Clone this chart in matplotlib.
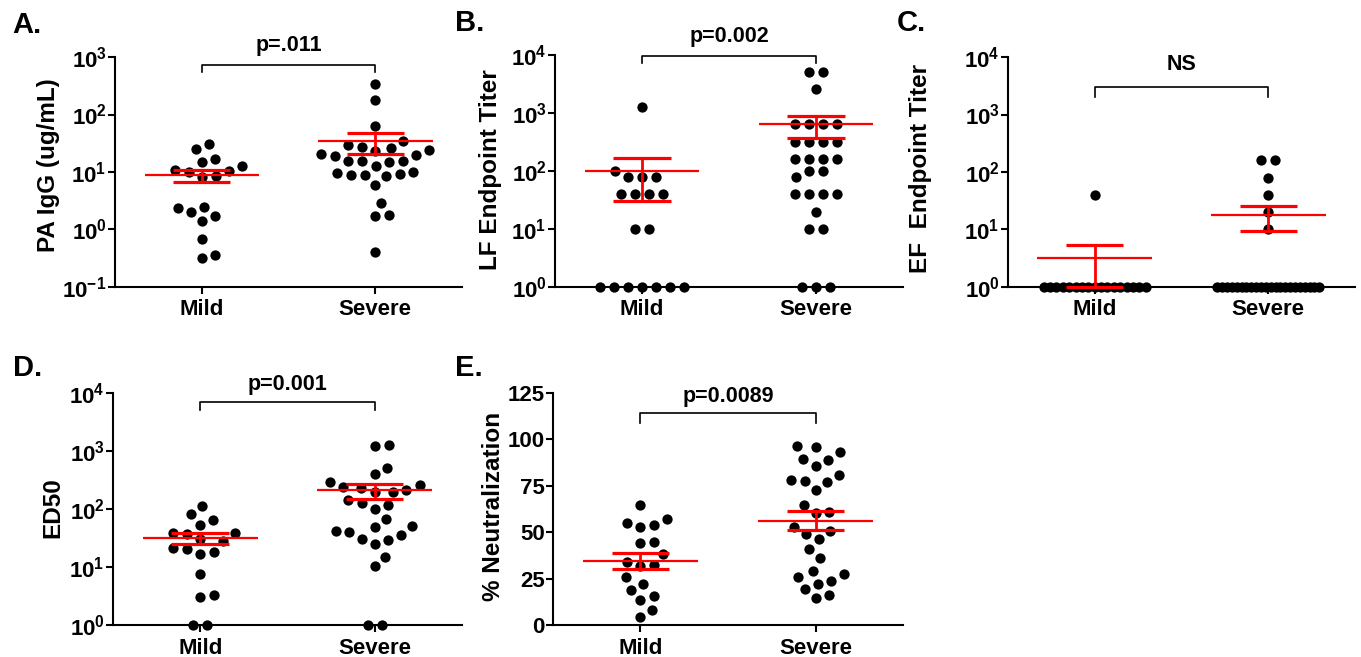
############################## libraries #####################################
import numpy as np
import matplotlib.pyplot as plt
import matplotlib.transforms as mtransforms
from matplotlib.ticker import FixedLocator, FuncFormatter, NullLocator
############################################################################


########################### data ####################
groups = ['Mild', 'Severe']

# A. PA IgG (ug/mL)
pa_mild = [31, 25, 17, 15, 10.7, 10, 10.4, 12.6, 8.2, 8.5, 2.0, 2.5, 2.4, 1.4, 1.7, 0.67, 0.32, 0.36]
pa_severe = [344, 181, 62, 34.6, 29, 26, 27, 23.8, 23, 20.8, 20, 18.7, 15.6, 14.9, 15.3, 15.8, 12.7,
             10, 9.1, 8.6, 8.7, 8.8, 9.6, 5.9, 2.9, 1.75, 1.78, 0.40]

# B. LF endpoint titer
lf_mild = [1280, 100, 80, 80, 80, 40, 40, 40, 40, 10, 10, 1, 1, 1, 1, 1, 1, 1]
lf_severe = [5120, 5120, 2560, 640, 640, 640, 640, 320, 320, 320, 320, 160, 160, 160, 160,
             100, 100, 80, 40, 40, 40, 40, 20, 10, 10, 1, 1, 1]

# C. EF endpoint titer
ef_mild = [40, 1, 1, 1, 1, 1, 1, 1, 1, 1, 1, 1, 1, 1, 1, 1, 1, 1]
ef_severe = [160, 160, 80, 40, 20, 10, 1, 1, 1, 1, 1, 1, 1, 1, 1, 1, 1, 1, 1, 1, 1, 1,
             1, 1, 1, 1, 1, 1]

# D. ED50
ed50_mild = [113, 81, 65, 53, 38, 37, 39, 30, 28, 21, 20.5, 18.5, 16.6, 7.5, 3.3, 3.1, 1, 1]
ed50_severe = [1280, 1200, 507, 399, 290, 255, 229, 240, 195, 200, 210, 144, 129, 118, 101, 68,
               50, 49, 41, 40.5, 36, 31, 29, 25, 15, 10.4, 1, 1]

# E. % neutralization
neut_mild = [64.4, 57, 54, 53, 55, 44, 44.5, 38.3, 32.2, 31.8, 34.2, 26, 22, 18.9, 15.8, 13.5, 8.1, 4.1]
neut_severe = [95.9, 96.2, 93, 89.4, 89, 85.8, 80.6, 78.2, 76.8, 77.7, 72.8, 64.7, 61, 60.6, 53,
               50.9, 49.1, 46.4, 41, 36, 27.5, 29.3, 23.9, 22.1, 25.7, 19.2, 14.4, 16.2]

p_texts = ['p=.011', 'p=0.002', 'NS', 'p=0.001', 'p=0.0089']
############################################################################


plt.rcParams['font.family'] = ['Liberation Sans', 'DejaVu Sans']
plt.rcParams['font.weight'] = 'bold'
plt.rcParams['axes.labelweight'] = 'bold'
plt.rcParams['mathtext.fontset'] = 'custom'
plt.rcParams['mathtext.rm'] = 'Liberation Sans:bold'
plt.rcParams['mathtext.bf'] = 'Liberation Sans:bold'
plt.rcParams['mathtext.it'] = 'Liberation Sans:bold'
plt.rcParams['mathtext.default'] = 'bf'

RED = '#ff0000'


def swarm_x(ax, xc, vals, d_px=14.0, half_px=51.0):
    # simple beeswarm in pixel space, equal values go in one row (squeezed if too wide)
    vals = np.asarray(vals, dtype=float)
    n = len(vals)
    ypx = ax.transData.transform(np.column_stack([np.full(n, xc), vals]))[:, 1]
    xpx = np.full(n, np.nan)
    uniq, cnt = np.unique(vals, return_counts=True)
    for u, c in zip(uniq, cnt):
        if c < 2:
            continue
        idx = np.where(vals == u)[0]
        step = min(d_px, 2 * half_px / (c - 1))
        xpx[idx] = (np.arange(c) - (c - 1) / 2.0) * step
    for i in np.argsort(ypx):
        if not np.isnan(xpx[i]):
            continue
        done = np.where(~np.isnan(xpx))[0]
        cands = [0.0]
        for j in done:
            dy = ypx[i] - ypx[j]
            if abs(dy) < d_px:
                dx = np.sqrt(d_px ** 2 - dy ** 2)
                cands += [xpx[j] + dx, xpx[j] - dx]
        for c in sorted(cands, key=abs):
            if np.all((c - xpx[done]) ** 2 + (ypx[i] - ypx[done]) ** 2 >= d_px ** 2 - 1e-6):
                xpx[i] = c
                break
    px_per_unit = ax.transData.transform((1, 1))[0] - ax.transData.transform((0, 1))[0]
    return xc + xpx / px_per_unit


def draw_panel(fig, rect, mild, severe, ylabel, log, ylim, lab_xy, bracket, ptext):
    ax = fig.add_axes(rect)
    ax.set_xlim(-0.5, 1.5)
    if log:
        ax.set_yscale('log')
    ax.set_ylim(*ylim)
    if log:
        lo, hi = np.log10(ylim[0]), np.log10(ylim[1])
        ax.yaxis.set_major_locator(FixedLocator(10.0 ** np.arange(lo, hi + 1)))
        ax.yaxis.set_major_formatter(FuncFormatter(lambda v, pos: r'$10^{%d}$' % round(np.log10(v))))
        ax.yaxis.set_minor_locator(NullLocator())
    else:
        ax.set_yticks([0, 25, 50, 75, 100, 125])

    for xc, vals in enumerate([mild, severe]):
        vals = np.asarray(vals, dtype=float)
        xs = swarm_x(ax, xc, vals)
        ax.scatter(xs, vals, s=55, color='black', linewidths=0, zorder=3, clip_on=False)
        # mean +- SEM
        m = vals.mean()
        sem = vals.std(ddof=1) / np.sqrt(len(vals))
        ax.hlines(m, xc - 0.33, xc + 0.33, color=RED, lw=1.6, zorder=4, clip_on=False)
        ax.hlines([m - sem, m + sem], xc - 0.165, xc + 0.165, color=RED, lw=2.3, zorder=4, clip_on=False)
        ax.vlines(xc, m - sem, m + sem, color=RED, lw=2.0, zorder=4, clip_on=False)

    ax.set_xticks([0, 1])
    ax.set_xticklabels(groups)
    for side in ['top', 'right']:
        ax.spines[side].set_visible(False)
    for side in ['left', 'bottom']:
        ax.spines[side].set_linewidth(1.5)
    ax.tick_params(axis='both', direction='out', length=5, width=1.5, labelsize=16)
    ax.tick_params(axis='y', pad=1)
    ax.tick_params(axis='x', pad=4)

    ax.set_ylabel(ylabel, fontsize=17.5, fontweight='bold')
    ax.yaxis.set_label_coords(*lab_xy)

    # significance bracket
    trans = mtransforms.blended_transform_factory(ax.transData, ax.transAxes)
    y_top, y_end, y_txt = bracket
    ax.plot([0, 0, 1, 1], [y_end, y_top, y_top, y_end], color='black', lw=1.2,
            transform=trans, clip_on=False)
    ax.text(0.5, y_txt, ptext, transform=trans, ha='center', va='bottom',
            fontsize=15.5, fontweight='bold')
    return ax


######################## main ###########################################
def main():
    fig = plt.figure(figsize=(13.61, 6.57), dpi=100)

    draw_panel(fig, [0.0845, 0.5632, 0.255, 0.350], pa_mild, pa_severe, 'PA IgG (ug/mL)',
               True, (0.1, 1000), (-0.158, 0.528), (0.965, 0.935, 1.004), p_texts[0])
    draw_panel(fig, [0.4078, 0.5632, 0.2557, 0.3531], lf_mild, lf_severe, 'LF Endpoint Titer',
               True, (1, 10000), (-0.152, 0.504), (0.996, 0.966, 1.034), p_texts[1])
    draw_panel(fig, [0.7406, 0.5632, 0.255, 0.350], ef_mild, ef_severe, 'EF  Endpoint Titer',
               True, (1, 10000), (-0.219, 0.515), (0.870, 0.826, 0.922), p_texts[2])
    draw_panel(fig, [0.0830, 0.0487, 0.2564, 0.3531], ed50_mild, ed50_severe, 'ED50',
               True, (1, 10000), (-0.138, 0.504), (0.961, 0.927, 0.991), p_texts[3])
    draw_panel(fig, [0.4063, 0.0487, 0.2572, 0.3531], neut_mild, neut_severe, '% Neutralization',
               False, (0, 125), (-0.137, 0.513), (0.914, 0.871, 0.940), p_texts[4])

    for x, y, s in [(0.0088, 0.983, 'A.'), (0.3343, 0.986, 'B.'), (0.659, 0.986, 'C.'),
                    (0.0096, 0.461, 'D.'), (0.334, 0.461, 'E.')]:
        fig.text(x, y, s, fontsize=21, fontweight='bold', va='top', ha='left')

    fig.savefig('out.png', dpi=100, facecolor='white')


if __name__ == "__main__":
    main()
